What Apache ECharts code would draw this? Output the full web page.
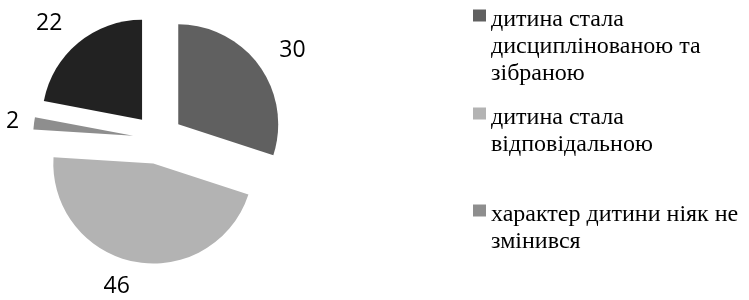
<!DOCTYPE html>
<html>
<head>
<meta charset="utf-8">
<script src="https://cdn.jsdelivr.net/npm/echarts@6/dist/echarts.min.js"></script>
<style>
    html, body { margin: 0; padding: 0; background: #fff; }
    #pie-chart { width: 749px; height: 300px; }
</style>
</head>
<body>
<div id="pie-chart"></div>
<script>
    // дані діаграми
    var categories = [
        'дитина стала дисциплінованою та зібраною',
        'дитина стала відповідальною',
        'характер дитини ніяк не змінився',
        ''
    ];
    var values = [30, 46, 2, 22];
    // підписи легенди, розбиті на рядки як в оригіналі
    var legendLines = [
        ['дитина стала', 'дисциплінованою та', 'зібраною'],
        ['дитина стала', 'відповідальною'],
        ['характер дитини ніяк не', 'змінився']
    ];

    var colors = ['#606060', '#b3b3b3', '#8e8e8e', '#222222'];
    var labelLen = [25, 25, 15, 25];
    var legendIconY = [15, 113, 210];
    var LH = 27;        // міжрядковий інтервал легенди
    var SHIFT = 4;      // перший рядок трохи нижче за маркер

    function drawPie() {
        var chart = echarts.init(document.getElementById('pie-chart'));

        // маркер легенди центрується по блоку тексту, тому зверху
        // додається порожній рядок, щоб маркер став навпроти першого рядка
        var legends = legendLines.map(function (lines, i) {
            var n = lines.length;
            var gapH = (n - 1) * LH + 2 * SHIFT;
            var blockH = gapH + n * LH;
            return {
                orient: 'vertical',
                left: 473,
                top: legendIconY[i] - blockH / 2 + gapH / 2,
                padding: 0,
                itemWidth: 13,
                itemHeight: 12,
                icon: 'rect',
                data: [categories[i]],
                formatter: function () {
                    return '{e| }\n' + lines.map(function (l) {
                        return '{t|' + l + '}';
                    }).join('\n');
                },
                textStyle: {
                    fontFamily: 'Liberation Serif',
                    fontSize: 24,
                    color: '#000',
                    rich: {
                        e: { lineHeight: gapH, fontSize: 1 },
                        t: {
                            fontFamily: 'Liberation Serif',
                            fontSize: 24,
                            lineHeight: LH,
                            color: '#000'
                        }
                    }
                }
            };
        });

        var option = {
            animation: false,
            color: colors,
            legend: legends,
            series: [{
                type: 'pie',
                center: [158, 139],
                radius: [0, 100],
                startAngle: 90,
                clockwise: true,
                selectedMode: 'multiple',
                selectedOffset: 25,
                avoidLabelOverlap: false,
                emphasis: { scale: false },
                label: {
                    show: true,
                    position: 'outside',
                    formatter: '{c}',
                    fontFamily: 'Open Sans',
                    fontSize: 23,
                    color: '#000',
                    distanceToLabelLine: 0
                },
                labelLine: { show: false, length: 25, length2: 0 },
                data: values.map(function (v, i) {
                    return {
                        name: categories[i],
                        value: v,
                        selected: true,
                        labelLine: { show: false, length: labelLen[i], length2: 0 }
                    };
                })
            }]
        };

        chart.setOption(option);
    }

    drawPie();
</script>
</body>
</html>
